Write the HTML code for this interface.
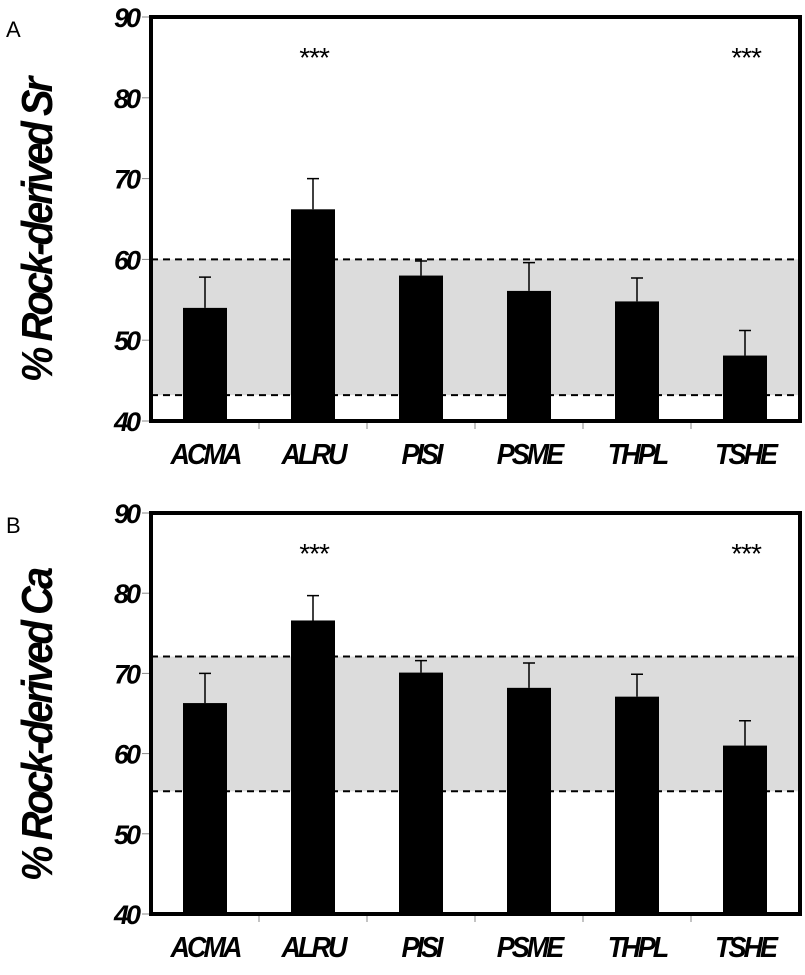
<!DOCTYPE html>
<html><head><meta charset="utf-8"><style>
body{margin:0;background:#fff;}
svg text{font-family:"Liberation Sans",Arial,sans-serif;}
</style></head><body>
<svg id="chart" width="805" height="970" xmlns="http://www.w3.org/2000/svg"></svg>
<script>
const categories=["ACMA","ALRU","PISI","PSME","THPL","TSHE"];
const srMeans=[54.0,66.2,58.0,56.1,54.8,48.1];
const srErrTop=[57.8,70.0,59.8,59.6,57.7,51.2];
const srBand=[43.2,60.0];
const caMeans=[66.3,76.6,70.1,68.2,67.1,61.0];
const caErrTop=[70.0,79.7,71.6,71.3,69.9,64.1];
const caBand=[55.3,72.1];
const yTicks=[40,50,60,70,80,90];
const sigCats=["ALRU","TSHE"];

const NS="http://www.w3.org/2000/svg";
const svg=document.getElementById('chart');
function el(tag,attrs,parent){const e=document.createElementNS(NS,tag);for(const k in attrs)e.setAttribute(k,attrs[k]);(parent||svg).appendChild(e);return e;}

function panel(letter,title,top,bottom,means,errs,band,key){
  const g=el('g',{});
  
  
  const L=151,R=802,bandW=108;
  const y=v=>bottom-(v-40)/50*(bottom-top);
  const xc=i=>L+bandW*i+bandW/2;
  const shade=el('rect',{x:L,y:y(band[1]),width:R-L,height:y(band[0])-y(band[1]),fill:'#dcdcdc'},g);
  
  
  band.forEach(v=>{const d=el('line',{x1:L,x2:R,y1:y(v),y2:y(v),stroke:'#000','stroke-width':2,'stroke-dasharray':'7,5'},g);
    
    });
  means.forEach((m,i)=>{
    const cx=xc(i);
    const b=el('rect',{x:cx-22,y:y(m),width:44,height:y(40)-y(m),fill:'#000'},g);
    
    
    const e=el('path',{d:`M${cx},${y(m)}V${y(errs[i])}M${cx-6},${y(errs[i])}H${cx+6}`,stroke:'#000','stroke-width':1.5,fill:'none'},g);
    
    
    const t=el('text',{x:0,y:0,'text-anchor':'middle','font-size':27,'font-weight':'bold','font-style':'italic','letter-spacing':'-3',transform:`translate(${cx},${bottom+43}) scale(1,1.05)`},g);
    t.textContent=categories[i];
    
    
    if(i>0){const tk=el('line',{x1:L+bandW*i,x2:L+bandW*i,y1:bottom,y2:bottom+8,stroke:'#888','stroke-width':1},g);
      
      }
    if(sigCats.includes(categories[i])){const s=el('text',{x:cx,y:top+50,'text-anchor':'middle','font-size':28,'font-style':'italic','letter-spacing':'-1'},g);
      s.textContent='***';
      
      }
  });
  yTicks.forEach(v=>{
    const tk=el('line',{x1:L-9,x2:L,y1:y(v),y2:y(v),stroke:'#888','stroke-width':1},g);
    
    
    const t=el('text',{x:L-13,y:y(v)+10,'text-anchor':'end','font-size':27,'font-weight':'bold','font-style':'italic','letter-spacing':'-3'},g);
    t.textContent=v;
    
    
  });
  const f=el('path',{d:`M${L},${top}H${R-2}V${bottom}H${L}Z`,fill:'none',stroke:'#000','stroke-width':4},g);
  
  
  const lt=el('text',{x:6,y:top+20,'font-size':22},g);
  lt.textContent=letter;
  
  
  const mid=(top+bottom)/2+12;
  const yt=el('text',{x:0,y:0,'text-anchor':'middle','font-size':40,'font-weight':'bold','font-style':'italic','letter-spacing':'-3',transform:`translate(52,${mid}) rotate(-90) scale(1.0,1.1)`},g);
  yt.textContent=title;
  
  
}
panel('A','% Rock-derived Sr',17,421,srMeans,srErrTop,srBand,'sr');
panel('B','% Rock-derived Ca',513,914,caMeans,caErrTop,caBand,'ca');
</script>
</body></html>
